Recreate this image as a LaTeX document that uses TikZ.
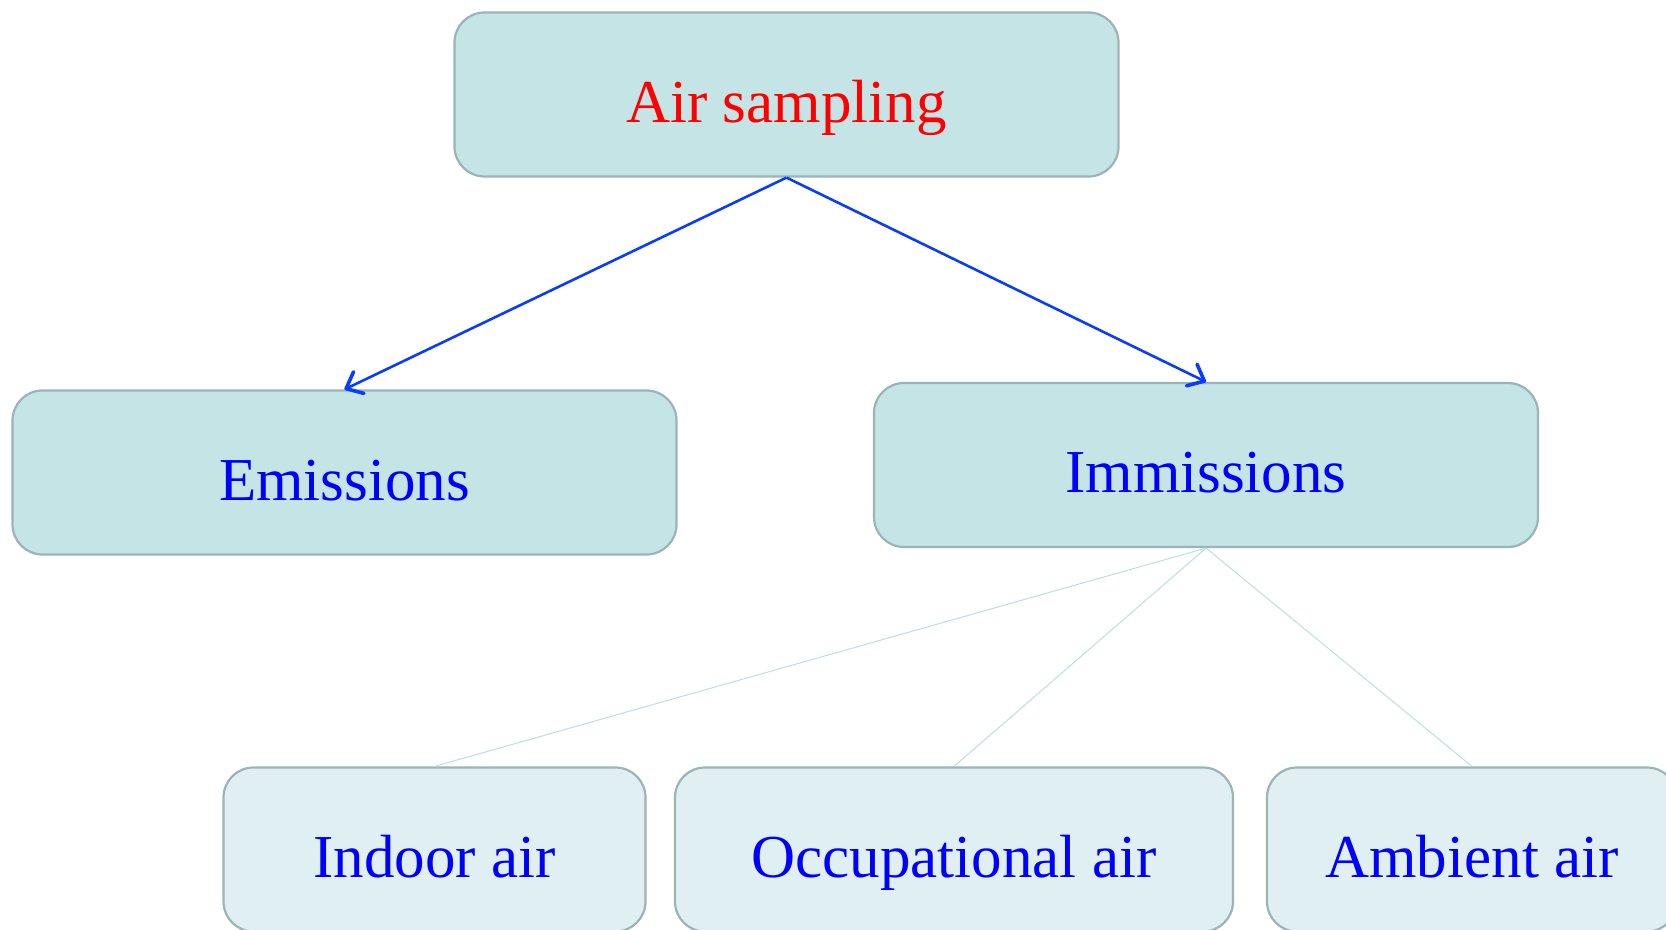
\documentclass[tikz,border=0pt]{standalone}
\usepackage{fontspec}
\setmainfont{Liberation Serif}
\usetikzlibrary{positioning, arrows.meta}
\definecolor{BoxFill}{HTML}{C4E4E6}
\definecolor{SubBoxFill}{HTML}{E0EFF2}
\definecolor{BoxEdge}{HTML}{9BB4B8}
\definecolor{ArrowBlue}{HTML}{0A3CFF}
\definecolor{BranchTeal}{HTML}{BADFE1}

\begin{document}
\begin{tikzpicture}[
        x=0.5pt, y=-0.5pt,
        topic/.style={
            rectangle, rounded corners=15pt, minimum width=332pt,
            minimum height=82pt, text centered, draw=BoxEdge, line width=1.1pt,
            fill=BoxFill, font=\fontsize{30.5}{36}\selectfont, text=blue,
            text height=28pt, text depth=0pt
        },
        subtopic/.style={topic, fill=SubBoxFill, minimum height=82pt},
        arrow/.style={line width=1.3pt, -{Straight Barb[length=7pt,width=12pt,round,line width=1.8pt]}, color=ArrowBlue},
        branch/.style={line width=0.5pt, color=BranchTeal}
    ]
    \useasboundingbox (0,0) rectangle (1666,930);

    % Root
    \node (air) [topic, text=red] at (786.5,94.5) {Air sampling};

    % Second level
    \node (emis) [topic] at (344.5,472.5) {Emissions};
    \node (immis) [topic] at (1206,465) {Immissions};

    % Third level
    \node (indoor) [subtopic, minimum width=211pt] at (434.5,849.5) {Indoor air};
    \node (occup) [subtopic, minimum width=279pt] at (954,849.5) {Occupational air};
    \node (ambient) [subtopic, minimum width=205pt] at (1472,849.5) {Ambient air};

    % Arrows from root
    \draw [arrow] (air.south) -- (emis.north);
    \draw [arrow] (air.south) -- (immis.north);

    % Branches below immissions
    \draw [branch] (immis.south) -- (indoor.north);
    \draw [branch] (immis.south) -- (occup.north);
    \draw [branch] (immis.south) -- (ambient.north);

\end{tikzpicture}
\end{document}
